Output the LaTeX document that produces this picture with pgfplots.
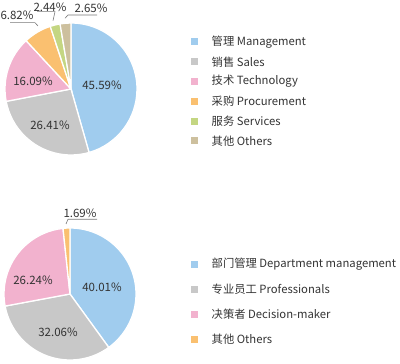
\documentclass[border=0pt]{standalone}
\usepackage{pgfplots}
\pgfplotsset{compat=1.18}
\usepackage{fontspec}
\setmainfont{Noto Sans CJK SC}
\definecolor{cBlue}{RGB}{160,204,238}
\definecolor{cGray}{RGB}{200,200,200}
\definecolor{cPink}{RGB}{242,178,206}
\definecolor{cOrange}{RGB}{250,192,112}
\definecolor{cGreen}{RGB}{196,214,130}
\definecolor{cTan}{RGB}{205,192,158}
\definecolor{txt}{RGB}{51,51,51}
\definecolor{lead}{RGB}{120,120,120}
% slice: {cx}{cy}{start angle}{end angle}{colour}
\newcommand\slice[5]{\fill[#5, draw=white, line width=1.3bp] (axis cs:#1,#2) -- ++(#3:66bp)
     arc[start angle=#3, end angle=#4, radius=66bp] -- cycle;}
% legend entry: {y}{colour}{text}
\newcommand\legentry[3]{\fill[#2] (axis cs:190.5,#1-3.5) rectangle (axis cs:197.5,#1+3.5);
  \node[font=\fontsize{11.3bp}{13bp}\selectfont, text=txt, anchor=west, inner sep=0pt] at (axis cs:211.5,#1) {#3};}
\newcommand\pct[3]{\node[font=\fontsize{11.5bp}{13bp}\selectfont, text=txt, inner sep=0pt] at (axis cs:#1,#2) {#3\%};}
\begin{document}
\begin{tikzpicture}
% top pie values (%)
\pgfmathsetmacro\tA{90-3.6*45.59}
\pgfmathsetmacro\tB{\tA-3.6*26.41}
\pgfmathsetmacro\tC{\tB-3.6*16.09}
\pgfmathsetmacro\tD{\tC-3.6*6.82}
\pgfmathsetmacro\tE{\tD-3.6*2.44}
\pgfmathsetmacro\tF{\tE-3.6*2.65}
% bottom pie values (%)
\pgfmathsetmacro\bA{90-3.6*40.01}
\pgfmathsetmacro\bB{\bA-3.6*32.06}
\pgfmathsetmacro\bC{\bB-3.6*26.24}
\pgfmathsetmacro\bD{\bC-3.6*1.69}
\begin{axis}[hide axis, scale only axis, width=400bp, height=364bp,
  xmin=0, xmax=400, ymin=0, ymax=364, clip=false]
\slice{71}{275}{90}{\tA}{cBlue}
\slice{71}{275}{\tA}{\tB}{cGray}
\slice{71}{275}{\tB}{\tC}{cPink}
\slice{71}{275}{\tC}{\tD}{cOrange}
\slice{71}{275}{\tD}{\tE}{cGreen}
\slice{71}{275}{\tE}{\tF}{cTan}
\slice{70}{70}{90}{\bA}{cBlue}
\slice{70}{70}{\bA}{\bB}{cGray}
\slice{70}{70}{\bB}{\bC}{cPink}
\slice{70}{70}{\bC}{\bD}{cOrange}
% top labels
\pct{102}{279}{45.59}
\pct{50}{239}{26.41}
\pct{33}{283}{16.09}
\pct{17}{349}{6.82}
\pct{50}{357}{2.44}
\pct{91}{356}{2.65}
% bottom labels
\pct{102}{77}{40.01}
\pct{58}{32}{32.06}
\pct{33}{84}{26.24}
\pct{80}{151}{1.69}
% leader lines
\draw[lead, line width=0.6bp] (axis cs:10,341.3) -- (axis cs:35,341.3) -- (axis cs:38,338);
\draw[lead, line width=0.6bp] (axis cs:37,352.3) -- (axis cs:55,352.3) -- (axis cs:53,343.3);
\draw[lead, line width=0.6bp] (axis cs:65,345.7) -- (axis cs:68,349) -- (axis cs:97,349);
\draw[lead, line width=0.6bp] (axis cs:66,140) -- (axis cs:68,144.7) -- (axis cs:97,144.7);
% legends
\legentry{322}{cBlue}{管理 Management}
\legentry{302.2}{cGray}{销售 Sales}
\legentry{282.4}{cPink}{技术 Technology}
\legentry{262.6}{cOrange}{采购 Procurement}
\legentry{242.8}{cGreen}{服务 Services}
\legentry{223}{cTan}{其他 Others}
\legentry{99.5}{cBlue}{部门管理 Department management}
\legentry{74.5}{cGray}{专业员工 Professionals}
\legentry{49.5}{cPink}{决策者 Decision-maker}
\legentry{24.5}{cOrange}{其他 Others}
\end{axis}
\pgfresetboundingbox
\path (0,0) rectangle (400bp,364bp);
\end{tikzpicture}
\end{document}
